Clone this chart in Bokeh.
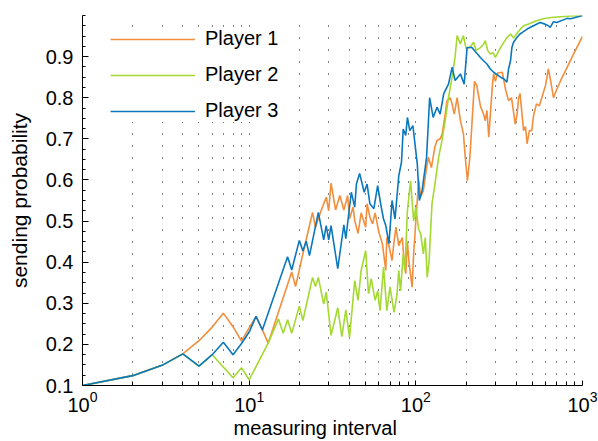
from bokeh.plotting import figure
from bokeh.models import FixedTicker, Legend, LegendItem, Range1d, Title
from bokeh.embed import file_html
from bokeh.resources import INLINE

# ---- data ----
p1_x = [1, 2, 3, 4, 5, 6, 7, 8, 9, 10,
        11, 12, 13, 18, 19, 21, 24, 25, 27, 29,
        30, 31, 33, 35, 37, 39, 40, 42, 43, 45,
        47, 50, 51, 53, 55, 57, 60, 63, 66, 67,
        69, 72, 74, 76, 79, 83, 85, 87, 89, 91,
        95, 97, 100, 104, 107, 111, 115, 119, 124, 130,
        134, 140, 144, 150, 154, 161, 165, 170, 177, 185,
        193, 198, 204, 211, 225, 232, 244, 255, 261, 267,
        274, 280, 288, 293, 300, 310, 330, 345, 360, 375,
        395, 405, 414, 422, 443, 455, 465, 480, 496, 510,
        530, 550, 570, 600, 624, 645, 670, 700, 740, 800,
        880, 1000]
p1_y = [0.100, 0.124, 0.149, 0.177, 0.209, 0.242, 0.276, 0.243, 0.208, 0.240,
        0.268, 0.236, 0.203, 0.376, 0.341, 0.420, 0.521, 0.485, 0.525, 0.558,
        0.525, 0.592, 0.527, 0.562, 0.527, 0.562, 0.505, 0.534, 0.501, 0.470,
        0.520, 0.485, 0.542, 0.510, 0.493, 0.520, 0.473, 0.445, 0.380, 0.460,
        0.440, 0.404, 0.450, 0.485, 0.440, 0.460, 0.400, 0.372, 0.450, 0.400,
        0.339, 0.420, 0.500, 0.600, 0.560, 0.574, 0.620, 0.655, 0.630, 0.680,
        0.696, 0.700, 0.712, 0.760, 0.793, 0.800, 0.785, 0.760, 0.800, 0.745,
        0.712, 0.655, 0.598, 0.655, 0.840, 0.830, 0.780, 0.760, 0.744, 0.769,
        0.704, 0.760, 0.830, 0.858, 0.840, 0.860, 0.862, 0.821, 0.793, 0.800,
        0.736, 0.760, 0.800, 0.810, 0.720, 0.730, 0.688, 0.720, 0.720, 0.760,
        0.785, 0.780, 0.800, 0.830, 0.870, 0.840, 0.800, 0.820, 0.842, 0.870,
        0.905, 0.949]

p2_x = [1, 2, 3, 4, 5, 6, 8, 9, 10, 13,
        15, 16, 17, 18, 20, 21, 24, 25, 26, 28,
        29, 31, 34, 36, 38, 40, 43, 45, 47, 50,
        52, 54, 57, 59, 61, 64, 67, 70, 74, 77,
        79, 81, 84, 86, 89, 93, 97, 100, 104, 107,
        111, 114, 117, 120, 125, 131, 137, 144, 150, 157,
        165, 172, 177, 185, 193, 200, 211, 222, 230, 244,
        255, 261, 270, 280, 290, 300, 322, 350, 370, 386,
        410, 443, 480, 520, 583, 650, 740, 850, 1000]
p2_y = [0.100, 0.124, 0.149, 0.177, 0.147, 0.175, 0.119, 0.143, 0.114, 0.203,
        0.262, 0.227, 0.260, 0.227, 0.293, 0.258, 0.363, 0.341, 0.363, 0.298,
        0.327, 0.222, 0.289, 0.219, 0.284, 0.217, 0.355, 0.307, 0.380, 0.428,
        0.323, 0.360, 0.307, 0.330, 0.282, 0.388, 0.282, 0.340, 0.278, 0.320,
        0.380, 0.330, 0.420, 0.380, 0.525, 0.598, 0.500, 0.534, 0.480, 0.469,
        0.420, 0.460, 0.363, 0.400, 0.542, 0.598, 0.655, 0.700, 0.744, 0.800,
        0.850, 0.900, 0.951, 0.931, 0.951, 0.920, 0.922, 0.935, 0.915, 0.922,
        0.930, 0.939, 0.915, 0.906, 0.910, 0.898, 0.922, 0.945, 0.955, 0.945,
        0.960, 0.975, 0.980, 0.986, 0.992, 0.995, 0.997, 0.999, 1.000]

p3_x = [1, 2, 3, 4, 5, 6, 7, 8, 9, 10,
        11, 12, 17, 18, 20, 21, 22, 23, 26, 28,
        29, 30, 31, 34, 37, 38, 41, 43, 44, 46,
        49, 51, 53, 56, 59, 62, 64, 66, 69, 72,
        75, 79, 82, 84, 87, 89, 92, 96, 102, 105,
        109, 116, 121, 127, 134, 140, 147, 157, 165, 172,
        185, 195, 203, 217, 230, 244, 255, 267, 280, 293,
        310, 322, 337, 352, 360, 370, 377, 386, 405, 422,
        440, 465, 508, 557, 596, 624, 640, 670, 700, 808,
        850, 1000]
p3_y = [0.100, 0.124, 0.149, 0.177, 0.147, 0.175, 0.205, 0.175, 0.202, 0.230,
        0.268, 0.235, 0.413, 0.381, 0.453, 0.427, 0.451, 0.416, 0.521, 0.454,
        0.489, 0.454, 0.489, 0.384, 0.491, 0.457, 0.570, 0.534, 0.590, 0.616,
        0.570, 0.590, 0.542, 0.530, 0.586, 0.534, 0.505, 0.489, 0.445, 0.550,
        0.505, 0.610, 0.643, 0.724, 0.708, 0.752, 0.720, 0.732, 0.639, 0.550,
        0.574, 0.655, 0.800, 0.752, 0.777, 0.760, 0.810, 0.833, 0.874, 0.842,
        0.858, 0.833, 0.922, 0.922, 0.910, 0.898, 0.890, 0.882, 0.870, 0.862,
        0.855, 0.850, 0.846, 0.838, 0.870, 0.890, 0.922, 0.935, 0.947, 0.955,
        0.960, 0.967, 0.975, 0.983, 0.979, 0.975, 0.971, 0.985, 0.983, 0.993,
        0.992, 1.000]

series_names = ["Player 1", "Player 2", "Player 3"]
series_colors = ["#F28E3C", "#A3D930", "#0B78BE"]

x_major = [1, 10, 100, 1000]
x_minor = [2, 3, 4, 5, 6, 7, 8, 9, 20, 30, 40, 50, 60, 70, 80, 90,
           200, 300, 400, 500, 600, 700, 800, 900]
x_grid = [2, 3, 4, 5, 6, 7, 8, 9, 10, 20, 30, 40, 50, 60, 70, 80, 90, 100,
          200, 300, 400, 500, 600, 700, 800, 900]
y_major = [0.1, 0.2, 0.3, 0.4, 0.5, 0.6, 0.7, 0.8, 0.9]
y_minor = [round(0.1 + 0.025 * k, 3) for k in range(37)]

FONT = "Liberation Sans"

p = figure(width=598, height=441, x_axis_type="log",
           x_range=Range1d(1, 1000), y_range=Range1d(0.1, 1.0),
           output_backend="svg", toolbar_location=None,
           min_border_left=82, min_border_right=16,
           min_border_top=15, min_border_bottom=56)
p.outline_line_color = None
p.background_fill_color = "white"
p.border_fill_color = "white"

# grid: dotted vertical lines only
p.ygrid.visible = False
p.xgrid.ticker = FixedTicker(ticks=x_grid)
p.xgrid.grid_line_color = "black"
p.xgrid.grid_line_width = 1
p.xgrid.grid_line_dash = "1 11"
p.xgrid.grid_line_dash_offset = 1

# x axis
xa = p.xaxis[0]
xa.ticker = FixedTicker(ticks=x_major, minor_ticks=x_minor)
xa.major_label_text_font = FONT
xa.major_label_text_font_size = "20px"
xa.major_label_text_color = "black"
xa.major_label_standoff = 5
xa.major_tick_in = 5
xa.major_tick_out = 0
xa.minor_tick_in = 4
xa.minor_tick_out = 0
xa.axis_line_color = "black"
xa.major_tick_line_color = "black"
xa.minor_tick_line_color = "black"

# x-axis title, placed below the axis, left-aligned at the reference's position
xtitle = Title(text="measuring interval", align="left", offset=151,
               text_font=FONT, text_font_size="20px", text_font_style="normal",
               text_color="black", standoff=0)
p.add_layout(xtitle, "below")

# y axis
ya = p.yaxis[0]
ya.ticker = FixedTicker(ticks=y_major, minor_ticks=y_minor)
ya.major_label_text_font = FONT
ya.major_label_text_font_size = "20px"
ya.major_label_text_color = "black"
ya.major_label_standoff = 9
ya.major_tick_in = 6
ya.major_tick_out = 0
ya.minor_tick_in = 3
ya.minor_tick_out = 0
ya.axis_line_color = "black"
ya.major_tick_line_color = "black"
ya.minor_tick_line_color = "black"
ya.axis_label = "sending probability"
ya.axis_label_text_font = FONT
ya.axis_label_text_font_size = "21px"
ya.axis_label_text_font_style = "normal"
ya.axis_label_text_color = "black"
ya.axis_label_standoff = 12

renderers = []
for xs, ys, c in zip([p1_x, p2_x, p3_x], [p1_y, p2_y, p3_y], series_colors):
    r = p.line(x=xs, y=ys, line_color=c, line_width=1.6)
    renderers.append(r)

legend = Legend(items=[LegendItem(label=n, renderers=[r]) for n, r in zip(series_names, renderers)],
                location=(28, 263))
legend.label_text_font = FONT
legend.label_text_font_size = "20px"
legend.label_text_color = "black"
legend.glyph_width = 85
legend.glyph_height = 20
legend.label_height = 20
legend.spacing = 13
legend.padding = 10
legend.label_standoff = 10
legend.margin = 0
legend.border_line_color = None
legend.background_fill_color = "white"
legend.background_fill_alpha = 1.0
p.add_layout(legend)

open("out.html", "w").write(file_html(p, INLINE))
